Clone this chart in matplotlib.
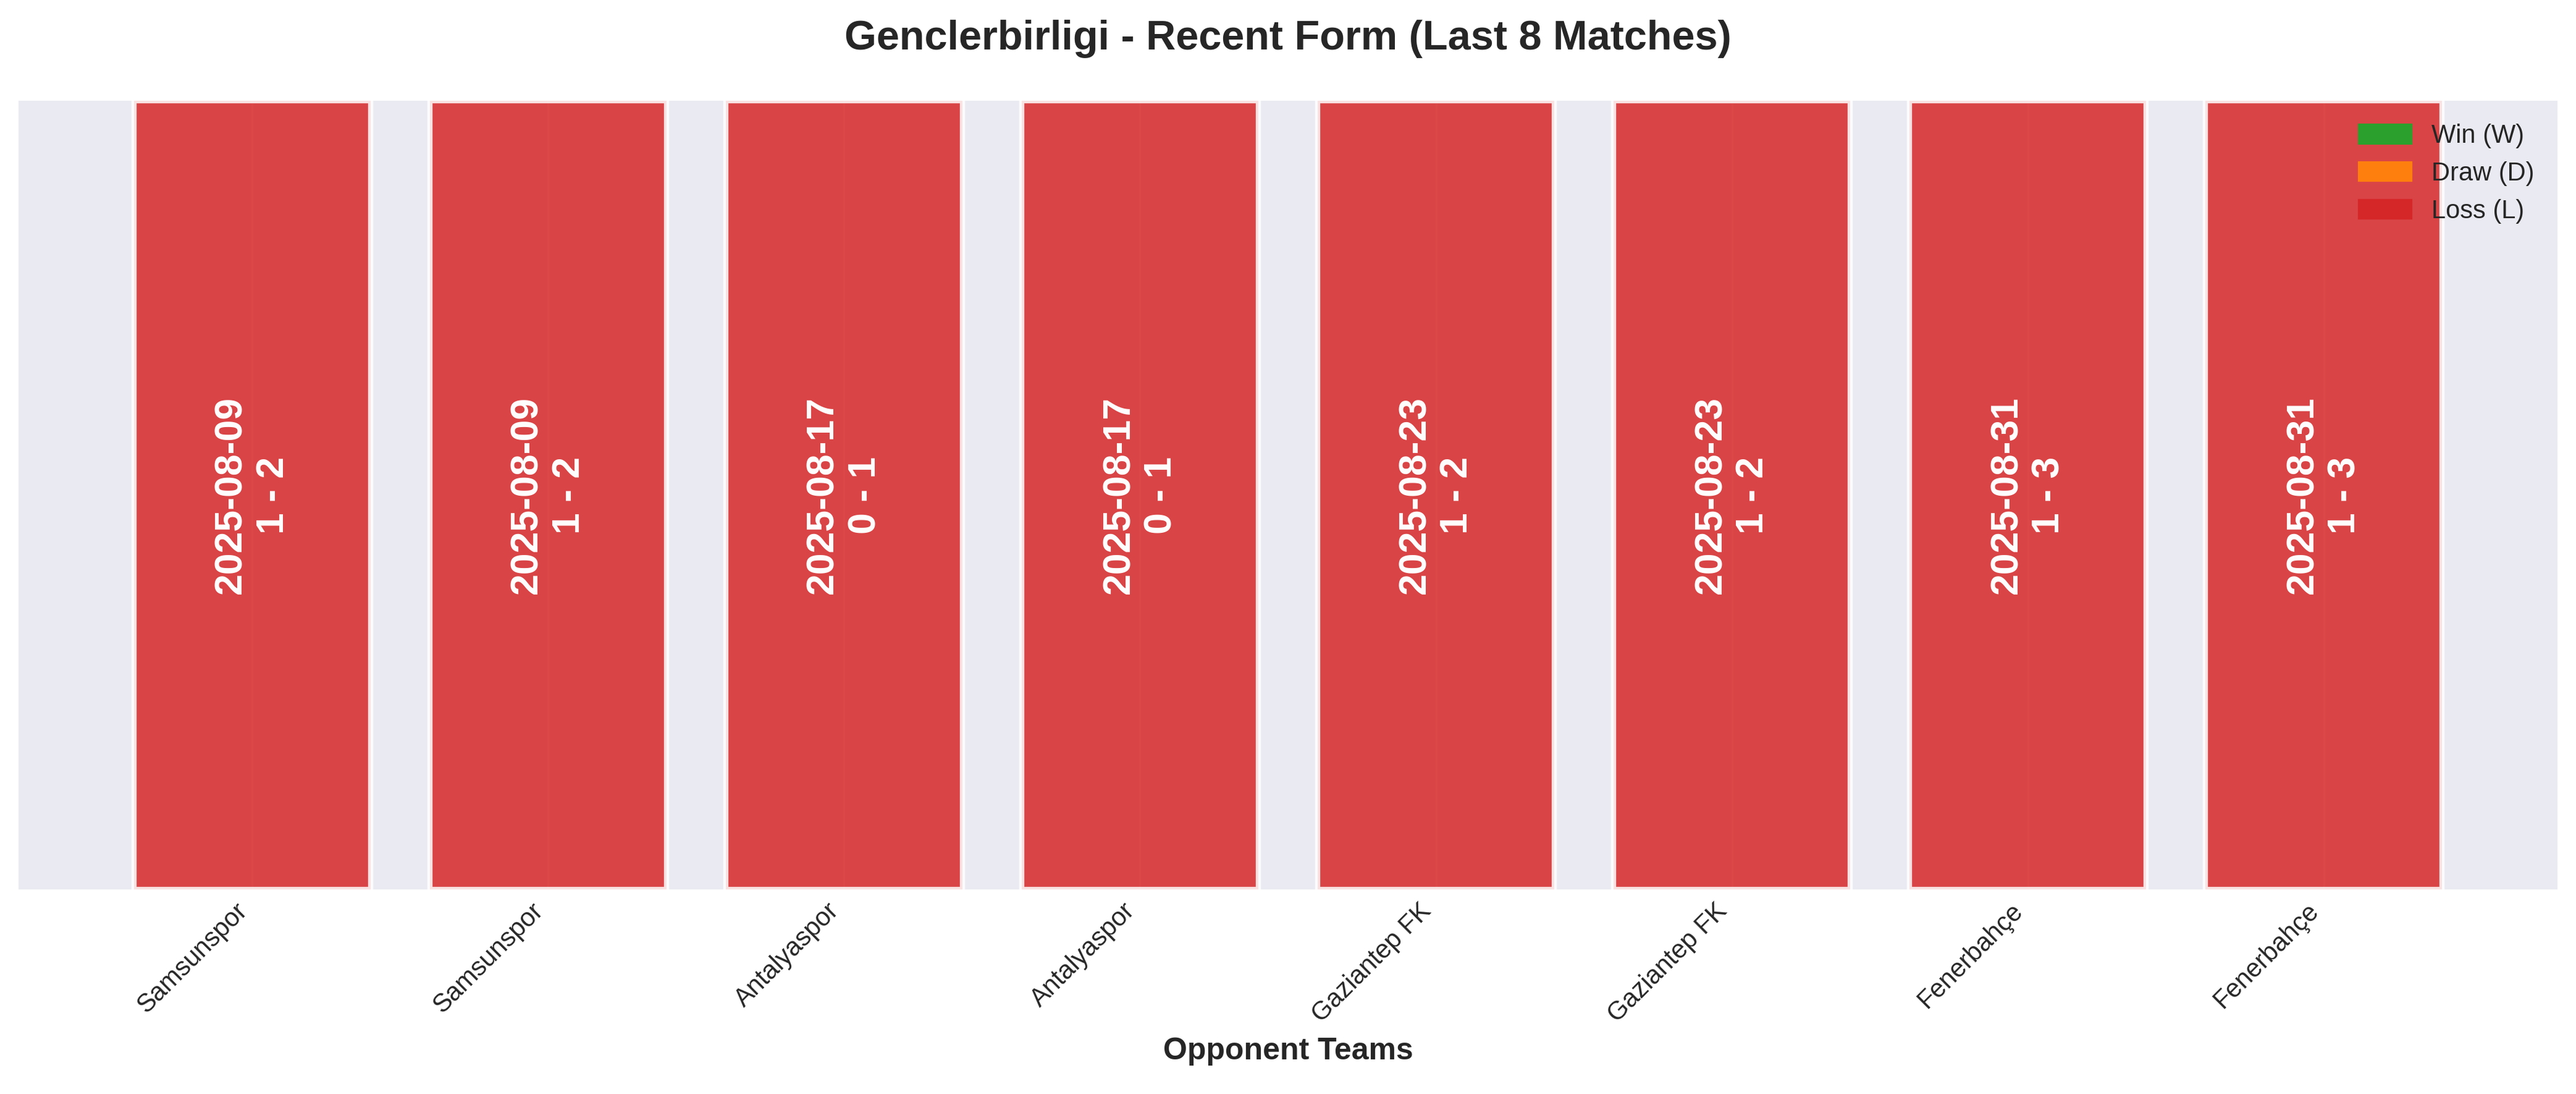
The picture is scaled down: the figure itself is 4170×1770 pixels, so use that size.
import matplotlib
matplotlib.use("Agg")
import matplotlib.pyplot as plt
from matplotlib.patches import Patch

plt.style.use('seaborn-v0_8-darkgrid')
plt.rcParams['font.family'] = ['Liberation Sans', 'DejaVu Sans']

opponents = ["Samsunspor", "Samsunspor", "Antalyaspor", "Antalyaspor",
             "Gaziantep FK", "Gaziantep FK", "Fenerbahçe", "Fenerbahçe"]
dates = ["2025-08-09", "2025-08-09", "2025-08-17", "2025-08-17",
         "2025-08-23", "2025-08-23", "2025-08-31", "2025-08-31"]
scores = ["1 - 2", "1 - 2", "0 - 1", "0 - 1", "1 - 2", "1 - 2", "1 - 3", "1 - 3"]
results = ["L", "L", "L", "L", "L", "L", "L", "L"]

result_colors = {"W": "#2ca02c", "D": "#ff7f0e", "L": "#d62728"}

fig, ax = plt.subplots(figsize=(13.9, 5.9), dpi=300)
fig.subplots_adjust(left=30/4170, right=4140/4170, top=1-163/1770, bottom=1-1439/1770)

x = list(range(len(opponents)))
colors = [result_colors[r] for r in results]
ax.bar(x, [1]*len(x), width=0.8, color=colors, alpha=0.85, edgecolor='white', linewidth=2)

for i in x:
    ax.text(i, 0.5, f"{dates[i]}\n{scores[i]}", rotation=90, ha='center', va='center',
            color='white', fontsize=15, fontweight='bold')

ax.set_ylim(0, 1)
ax.set_yticks([])
ax.set_xticks(x)
ax.set_xticklabels(opponents, rotation=45, ha='right', fontsize=10)
ax.set_xlabel("Opponent Teams", fontsize=12, fontweight='bold')
ax.set_title("Genclerbirligi - Recent Form (Last 8 Matches)", fontsize=16, fontweight='bold', pad=20)

handles = [Patch(color=result_colors["W"], label="Win (W)"),
           Patch(color=result_colors["D"], label="Draw (D)"),
           Patch(color=result_colors["L"], label="Loss (L)")]
ax.legend(handles=handles, loc='upper right', fontsize=10, frameon=False)

fig.savefig("out.png", dpi=300)
